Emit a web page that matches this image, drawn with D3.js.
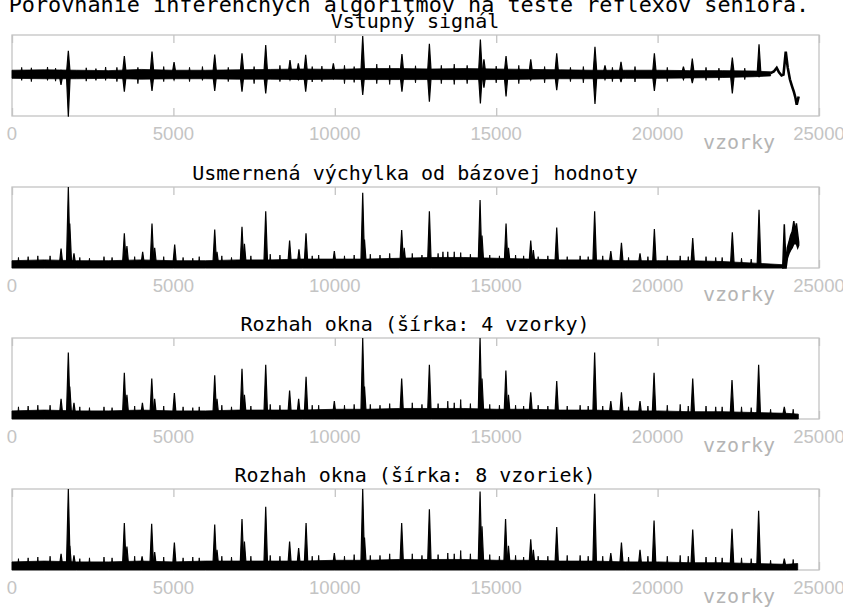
<!DOCTYPE html>
<html>
<head>
<meta charset="utf-8">
<script src="https://d3js.org/d3.v7.min.js"></script>
<style>
  body { margin: 0; background: #fff; }
  svg { display: block; }
</style>
</head>
<body>
<script>
"use strict"

// Data
const mainTitle = 'Porovnanie inferenčných algoritmov na teste reflexov seniora.'
const panelTitles = [
  'Vstupný signál',
  'Usmernená výchylka od bázovej hodnoty',
  'Rozhah okna (šírka: 4 vzorky)',
  'Rozhah okna (šírka: 8 vzoriek)'
]
const xTicks = [0, 5000, 10000, 15000, 20000, 25000]
const xLabel = 'vzorky'

// input signal: noise band [sample, low, high], spikes [sample, top, bottom], tail [sample, value]
const inputBand = [
  [0, -0.07, 0.13], [1000, -0.08, 0.14], [2000, -0.08, 0.13], [3000, -0.07, 0.12],
  [4000, -0.09, 0.15], [5000, -0.08, 0.13], [6000, -0.08, 0.13], [7000, -0.09, 0.14],
  [8000, -0.09, 0.15], [9000, -0.1, 0.16], [10000, -0.09, 0.15], [11000, -0.1, 0.17],
  [12000, -0.1, 0.17], [13000, -0.1, 0.16], [14000, -0.1, 0.17], [15000, -0.1, 0.16],
  [16000, -0.09, 0.15], [17000, -0.08, 0.14], [18000, -0.08, 0.13], [19000, -0.07, 0.13],
  [20000, -0.07, 0.13], [21000, -0.06, 0.12], [22000, -0.05, 0.12], [23000, -0.03, 0.11],
  [23500, -0.01, 0.09]
]
const inputSpikes = [
  [1518, 0.12, -0.23], [1745, 0.61, -1.02], [3480, 0.48, -0.4], [4337, 0.59, -0.38],
  [5020, 0.33, -0.11], [6280, 0.52, -0.38], [7125, 0.55, -0.4], [7860, 0.75, -0.44],
  [8612, 0.38, -0.11], [8870, 0.3, -0.1], [9098, 0.51, -0.4], [9955, 0.3, -0.08],
  [10865, 0.975, -0.48], [12080, 0.53, -0.4], [12930, 0.78, -0.65], [14510, 0.89, -0.69],
  [14620, 0.4, -0.3], [15305, 0.48, -0.52], [16070, 0.4, -0.11], [16875, 0.55, -0.36],
  [18060, 0.71, -0.7], [18370, 0.25, -0.1], [18866, 0.34, -0.16], [19900, 0.55, -0.38],
  [20800, 0.22, -0.1], [21075, 0.42, -0.19], [22315, 0.44, -0.44], [23142, 0.77, -0.03]
]
const inputNoise = [
  [300, 0.2, -0.12], [600, 0.19, -0.15], [1100, 0.21, -0.12], [1350, 0.18, -0.14],
  [2300, 0.19, -0.14], [2600, 0.17, -0.12], [2900, 0.21, -0.12], [3250, 0.2, -0.15],
  [3900, 0.2, -0.2], [4700, 0.22, -0.15], [5500, 0.2, -0.15], [5900, 0.22, -0.12],
  [6700, 0.2, -0.15], [7500, 0.22, -0.2], [8300, 0.25, -0.15], [9300, 0.22, -0.16],
  [9600, 0.23, -0.15], [10300, 0.25, -0.2], [10600, 0.22, -0.17], [11300, 0.28, -0.2],
  [11700, 0.25, -0.22], [12500, 0.24, -0.18], [13300, 0.25, -0.2], [13700, 0.28, -0.22],
  [14100, 0.25, -0.2], [15000, 0.23, -0.18], [15700, 0.25, -0.2], [16500, 0.22, -0.18],
  [17300, 0.2, -0.15], [17700, 0.22, -0.18], [18600, 0.2, -0.15], [19300, 0.22, -0.16],
  [20300, 0.2, -0.15], [21500, 0.2, -0.12], [21900, 0.18, -0.12], [22700, 0.18, -0.1]
]
const inputTail = [
  [23500, 0.06], [23600, 0.1], [23690, 0.19], [23760, 0.08], [23840, 0.0], [23900, 0.02],
  [23970, 0.59], [24030, 0.2], [24100, -0.1], [24170, -0.28], [24220, -0.4], [24270, -0.55],
  [24310, -0.72], [24340, -0.62], [24370, -0.52]
]

// rectified deviation from baseline
const rectBand = [
  [0, 0.0, 0.09], [1000, 0.0, 0.1], [2000, 0.0, 0.09], [3000, 0.0, 0.09],
  [4000, 0.0, 0.1], [5000, 0.0, 0.09], [6000, 0.0, 0.09], [7000, 0.0, 0.1],
  [8000, 0.0, 0.1], [9000, 0.0, 0.11], [10000, 0.0, 0.11], [11000, 0.0, 0.11],
  [12000, 0.0, 0.12], [13000, 0.0, 0.13], [14000, 0.0, 0.13], [15000, 0.0, 0.12],
  [16000, 0.0, 0.11], [17000, 0.0, 0.1], [18000, 0.0, 0.1], [19000, 0.0, 0.09],
  [20000, 0.0, 0.09], [21000, 0.0, 0.09], [22000, 0.0, 0.08], [23000, 0.0, 0.06],
  [23900, 0.0, 0.04]
]
const rectSpikes = [
  [1520, 0.24], [1745, 1.0], [1790, 0.55], [1920, 0.18],
  [3480, 0.43], [3560, 0.27], [4048, 0.2], [4337, 0.55], [4420, 0.25],
  [5040, 0.29], [6280, 0.475], [6350, 0.2], [7125, 0.51],
  [7200, 0.3], [7860, 0.7], [8600, 0.34],
  [8890, 0.23], [9108, 0.43], [9985, 0.21], [10865, 0.93],
  [10920, 0.35], [12072, 0.47], [12150, 0.25],
  [12930, 0.7], [14500, 0.84], [14560, 0.4], [15305, 0.55], [15380, 0.25],
  [16070, 0.34], [16150, 0.22], [16875, 0.5],
  [18050, 0.7], [18550, 0.21], [18880, 0.31], [19455, 0.18], [19900, 0.48],
  [21088, 0.37], [22315, 0.44], [23142, 0.72]
]
const rectNoise = [
  [200, 0.13], [500, 0.14], [800, 0.15], [1180, 0.15], [2100, 0.13], [2400, 0.12],
  [2850, 0.14], [3100, 0.13], [3800, 0.14], [4700, 0.14], [5300, 0.13], [5600, 0.12],
  [5800, 0.14], [6500, 0.15], [6800, 0.13], [7400, 0.15], [8000, 0.17], [8300, 0.16],
  [9300, 0.15], [9500, 0.16], [10300, 0.15], [10600, 0.16], [11100, 0.17], [11400, 0.16],
  [11700, 0.18], [12400, 0.18], [12700, 0.16], [13200, 0.18], [13350, 0.2], [13500, 0.2],
  [13700, 0.2], [13900, 0.19], [14200, 0.17], [14800, 0.16], [15100, 0.15], [15600, 0.16],
  [15850, 0.15], [16300, 0.14], [16600, 0.15], [17200, 0.14], [17600, 0.15], [17850, 0.14],
  [18300, 0.15], [19100, 0.13], [19700, 0.14], [20300, 0.15], [20700, 0.15], [20950, 0.14],
  [21500, 0.14], [21800, 0.13], [22000, 0.13], [22600, 0.12], [22900, 0.11]
]
const rectTail = [
  [23880, 0.0, 0.05], [23925, 0.0, 0.54], [23950, 0.0, 0.3], [23980, 0.0, 0.05],
  [24020, 0.12, 0.25], [24070, 0.18, 0.32], [24120, 0.22, 0.4], [24170, 0.25, 0.45],
  [24220, 0.3, 0.58], [24260, 0.3, 0.45], [24300, 0.3, 0.55], [24340, 0.25, 0.42],
  [24370, 0.28, 0.32]
]

// window range, width 4
const range4Band = [
  [0, 0.0, 0.1], [1000, 0.0, 0.11], [2000, 0.0, 0.1], [3000, 0.0, 0.1],
  [4000, 0.0, 0.11], [5000, 0.0, 0.1], [6000, 0.0, 0.1], [7000, 0.0, 0.11],
  [8000, 0.0, 0.11], [9000, 0.0, 0.11], [10000, 0.0, 0.12], [11000, 0.0, 0.12],
  [12000, 0.0, 0.13], [13000, 0.0, 0.13], [14000, 0.0, 0.13], [15000, 0.0, 0.12],
  [16000, 0.0, 0.12], [17000, 0.0, 0.11], [18000, 0.0, 0.11], [19000, 0.0, 0.1],
  [20000, 0.0, 0.1], [21000, 0.0, 0.09], [22000, 0.0, 0.09], [23000, 0.0, 0.08],
  [24000, 0.0, 0.07], [24360, 0.0, 0.06]
]
const range4Spikes = [
  [1520, 0.25], [1745, 0.82], [1790, 0.4], [1920, 0.2],
  [3480, 0.57], [3560, 0.3], [4040, 0.2], [4330, 0.5], [4420, 0.25],
  [5030, 0.32], [6280, 0.54], [6350, 0.25], [7125, 0.62], [7200, 0.3],
  [7860, 0.67], [8600, 0.35], [8880, 0.25], [9110, 0.52],
  [9985, 0.22], [10865, 1.0], [10920, 0.4], [12072, 0.5],
  [12930, 0.67], [14500, 1.0], [14560, 0.5],
  [15300, 0.6], [15380, 0.3], [16070, 0.33], [16875, 0.47],
  [18050, 0.82], [18550, 0.22], [18880, 0.33], [19455, 0.22], [19890, 0.57],
  [21088, 0.5], [22305, 0.48], [23130, 0.67], [23925, 0.15]
]
const range4Noise = [
  [200, 0.15], [500, 0.16], [800, 0.17], [1180, 0.17], [2100, 0.15], [2400, 0.14],
  [2850, 0.15], [3100, 0.14], [3800, 0.16], [4700, 0.16], [5300, 0.15], [5600, 0.14],
  [5800, 0.15], [6500, 0.17], [6800, 0.15], [7400, 0.16], [8000, 0.18], [8300, 0.17],
  [9300, 0.17], [9500, 0.17], [10300, 0.17], [10600, 0.18], [11100, 0.18], [11400, 0.17],
  [11700, 0.19], [12400, 0.2], [12700, 0.18], [13200, 0.19], [13500, 0.22], [13700, 0.2],
  [13900, 0.24], [14200, 0.19], [14800, 0.18], [15100, 0.17], [15600, 0.17], [15850, 0.16],
  [16300, 0.17], [16600, 0.16], [17200, 0.16], [17600, 0.17], [17850, 0.16], [18300, 0.16],
  [19100, 0.15], [19700, 0.16], [20300, 0.17], [20700, 0.18], [20950, 0.16], [21500, 0.16],
  [21800, 0.15], [22000, 0.15], [22600, 0.15], [22900, 0.14], [23500, 0.12], [24200, 0.12]
]

// window range, width 8
const range8Band = [
  [0, 0.0, 0.1], [1000, 0.0, 0.11], [2000, 0.0, 0.1], [3000, 0.0, 0.1],
  [4000, 0.0, 0.11], [5000, 0.0, 0.1], [6000, 0.0, 0.11], [7000, 0.0, 0.11],
  [8000, 0.0, 0.11], [9000, 0.0, 0.11], [10000, 0.0, 0.12], [11000, 0.0, 0.12],
  [12000, 0.0, 0.13], [13000, 0.0, 0.13], [14000, 0.0, 0.13], [15000, 0.0, 0.12],
  [16000, 0.0, 0.12], [17000, 0.0, 0.11], [18000, 0.0, 0.11], [19000, 0.0, 0.1],
  [20000, 0.0, 0.1], [21000, 0.0, 0.09], [22000, 0.0, 0.09], [23000, 0.0, 0.08],
  [24000, 0.0, 0.07], [24340, 0.0, 0.08]
]
const range8Spikes = [
  [1520, 0.2], [1745, 1.0], [1790, 0.3], [1920, 0.18],
  [3480, 0.58], [3560, 0.29], [4030, 0.17], [4327, 0.57], [4420, 0.22],
  [5030, 0.34], [6280, 0.56], [6350, 0.25], [7125, 0.63], [7200, 0.35],
  [7860, 0.78], [8600, 0.35], [8880, 0.27], [9110, 0.58],
  [9985, 0.21], [10865, 1.0], [10920, 0.4], [12072, 0.58],
  [12930, 0.75], [14500, 0.97], [14560, 0.54],
  [15290, 0.63], [15380, 0.3], [16070, 0.38], [16150, 0.25], [16875, 0.53],
  [18050, 0.94], [18550, 0.21], [18880, 0.34], [19455, 0.25], [19890, 0.61],
  [21088, 0.5], [22305, 0.51], [23130, 0.73], [23925, 0.14]
]
const range8Noise = [
  [200, 0.14], [500, 0.15], [800, 0.16], [1180, 0.17], [2100, 0.14], [2400, 0.15],
  [2850, 0.16], [3100, 0.15], [3800, 0.17], [4700, 0.16], [5300, 0.15], [5600, 0.16],
  [5800, 0.15], [6500, 0.17], [6800, 0.16], [7400, 0.17], [8000, 0.18], [8300, 0.17],
  [9300, 0.17], [9500, 0.18], [10300, 0.17], [10600, 0.19], [11100, 0.18], [11400, 0.18],
  [11700, 0.2], [12400, 0.2], [12700, 0.18], [13200, 0.19], [13500, 0.21], [13700, 0.2],
  [13900, 0.24], [14200, 0.2], [14800, 0.19], [15100, 0.17], [15600, 0.18], [15850, 0.16],
  [16300, 0.17], [16600, 0.17], [17200, 0.18], [17600, 0.18], [17850, 0.17], [18300, 0.17],
  [19100, 0.16], [19700, 0.17], [20300, 0.17], [20700, 0.18], [20950, 0.17], [21500, 0.16],
  [21800, 0.16], [22000, 0.15], [22600, 0.15], [22900, 0.14], [23500, 0.12], [24200, 0.13]
]

const panels = [
  { band: inputBand, spikes: inputSpikes, noise: inputNoise, tail: inputTail, domain: [-1, 1], base: 0.03 },
  { band: rectBand, spikes: rectSpikes, noise: rectNoise, tailBand: rectTail, domain: [0, 1], base: 0.02 },
  { band: range4Band, spikes: range4Spikes, noise: range4Noise, domain: [0, 1], base: 0.02 },
  { band: range8Band, spikes: range8Spikes, noise: range8Noise, domain: [0, 1], base: 0.02 }
]

// Layout
const width = 843, height = 610
const frameLeft = 12, frameRight = 819
const panelTops = [35, 187, 338, 489]
const panelHeight = 81
const grey = '#c4c4c4'

const svg = d3.select('body').append('svg')
  .attr('width', width)
  .attr('height', height)

const x = d3.scaleLinear().domain([0, 25000]).range([frameLeft, frameRight])

svg.append('text')
  .attr('x', 409).attr('y', 12)
  .attr('text-anchor', 'middle')
  .style('font-family', 'DejaVu Sans Mono')
  .style('font-size', '21.8px')
  .text(mainTitle)

panels.forEach((p, i) => {
  const top = panelTops[i], bottom = top + panelHeight
  const y = d3.scaleLinear().domain(p.domain).range([bottom, top])
  const g = svg.append('g')

  // panel title
  g.append('text')
    .attr('x', 415).attr('y', top - 7)
    .attr('text-anchor', 'middle')
    .style('font-family', 'DejaVu Sans Mono')
    .style('font-size', '20px')
    .text(panelTitles[i])

  // frame + inner ticks top and bottom
  g.append('rect')
    .attr('x', frameLeft).attr('y', top)
    .attr('width', frameRight - frameLeft).attr('height', panelHeight)
    .attr('fill', 'none').attr('stroke', grey).attr('stroke-width', 1.3)
  g.append('g')
    .attr('transform', `translate(0,${bottom})`)
    .call(d3.axisTop(x).tickValues(xTicks).tickSize(8).tickFormat(''))
    .call(a => a.select('.domain').remove())
    .call(a => a.selectAll('line').attr('stroke', grey).attr('stroke-width', 1.3))
  g.append('g')
    .attr('transform', `translate(0,${top})`)
    .call(d3.axisBottom(x).tickValues(xTicks).tickSize(8).tickFormat(''))
    .call(a => a.select('.domain').remove())
    .call(a => a.selectAll('line').attr('stroke', grey).attr('stroke-width', 1.3))

  // tick labels
  g.selectAll('.tick-label')
    .data(xTicks)
    .enter().append('text')
      .attr('class', 'tick-label')
      .attr('x', d => x(d))
      .attr('y', bottom + 24)
      .attr('text-anchor', 'middle')
      .attr('fill', grey)
      .style('font-family', 'Liberation Sans, Arial, sans-serif')
      .style('font-size', '18.5px')
      .text(d => d)

  g.append('text')
    .attr('x', 739).attr('y', bottom + 33)
    .attr('text-anchor', 'middle')
    .attr('fill', '#b4b4b4')
    .style('font-family', 'DejaVu Sans Mono')
    .style('font-size', '20px')
    .text(xLabel)

  // noise band
  const area = d3.area()
    .x(d => x(d[0]))
    .y0(d => y(d[1]))
    .y1(d => y(d[2]))
  g.append('path')
    .datum(p.band)
    .attr('d', area)
    .attr('fill', '#000').attr('stroke', '#000').attr('stroke-width', 0.8)

  // spikes: triangles (with a lower tip for the input signal)
  const line = d3.line().x(d => x(d[0])).y(d => y(d[1]))
  const spikePath = (d, half) => {
    const pts = [[d[0] - half, p.base], [d[0], d[1]], [d[0] + half, p.base]]
    if (d.length > 2) pts.push([d[0], d[2]])
    return line(pts) + 'Z'
  }
  g.selectAll('.noise')
    .data(p.noise)
    .enter().append('path')
      .attr('class', 'noise')
      .attr('d', d => spikePath(d, 30))
      .attr('fill', '#000').attr('stroke', '#000').attr('stroke-width', 0.9)
  g.selectAll('.spike')
    .data(p.spikes)
    .enter().append('path')
      .attr('class', 'spike')
      .attr('d', d => spikePath(d, 60))
      .attr('fill', '#000').attr('stroke', '#000').attr('stroke-width', 1.2)

  if (p.tail) {
    g.append('path')
      .datum(p.tail)
      .attr('d', line)
      .attr('fill', 'none').attr('stroke', '#000').attr('stroke-width', 2.6)
  }
  if (p.tailBand) {
    g.append('path')
      .datum(p.tailBand)
      .attr('d', area)
      .attr('fill', '#000').attr('stroke', '#000').attr('stroke-width', 1.5)
  }
})
</script>
</body>
</html>
